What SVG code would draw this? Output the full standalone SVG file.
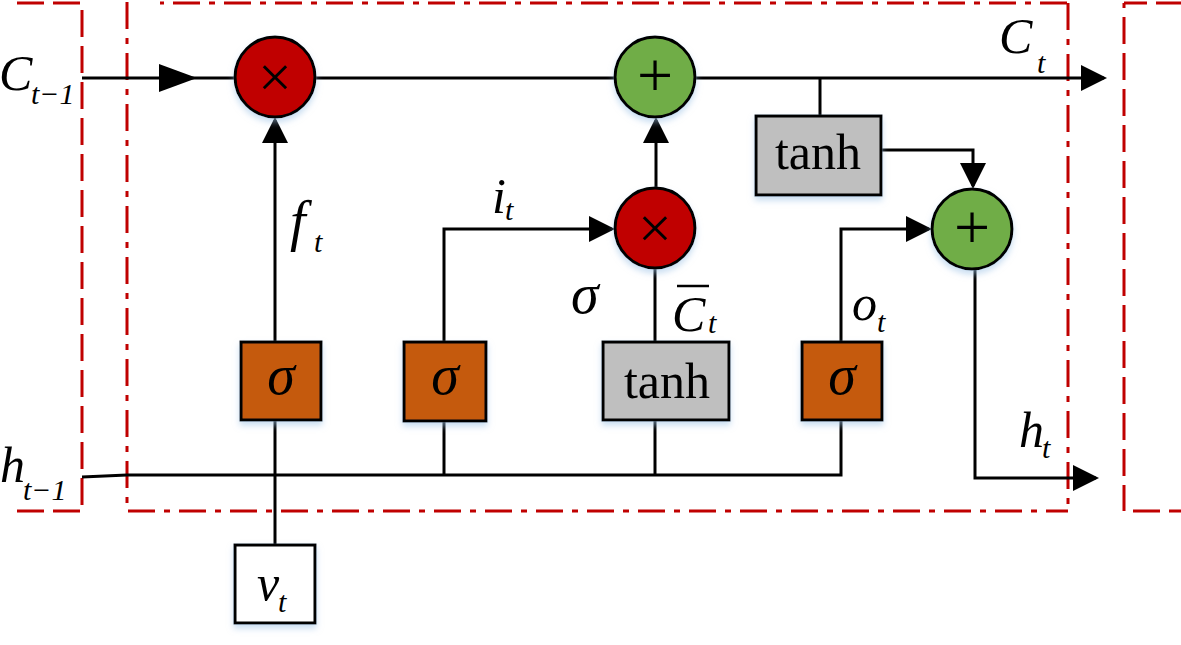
<svg xmlns="http://www.w3.org/2000/svg" width="1181" height="645" viewBox="0 0 1181 645">
<defs>
<style>
.dash{fill:none;stroke:#C00000;stroke-width:3;stroke-dasharray:27 9}
.dd{fill:none;stroke:#C00000;stroke-width:3;stroke-dasharray:27 9 6 9}
.ln{fill:none;stroke:#000;stroke-width:3}
.red{fill:#C00000;stroke:#000;stroke-width:3}
.grn{fill:#70AD47;stroke:#000;stroke-width:3}
.org{fill:#C55A11;stroke:#000;stroke-width:3}
.gry{fill:#BFBFBF;stroke:#000;stroke-width:3}
.wht{fill:#FFFFFF;stroke:#000;stroke-width:3}
.it{font-family:"Liberation Serif","Times New Roman",serif;font-style:italic;fill:#000}
.rm{font-family:"Liberation Serif","Times New Roman",serif;fill:#000}
.mul{font-family:"Liberation Serif","Times New Roman",serif;fill:#000;font-size:60px;text-anchor:middle}
.add{font-family:"Liberation Serif","Times New Roman",serif;fill:#000;font-size:64px;text-anchor:middle}
.big{font-size:50px}
.sub{font-size:30px}
.sg{font-size:56px}
</style>
<filter id="sh" x="-20%" y="-20%" width="140%" height="150%">
<feDropShadow dx="0" dy="4" stdDeviation="3" flood-color="#9DC3E6" flood-opacity="0.55"/>
</filter>
<marker id="ah" markerUnits="userSpaceOnUse" markerWidth="30" markerHeight="30" refX="23" refY="13" orient="auto">
<path d="M0,0 L26,13 L0,26 z" fill="#000"/>
</marker>
</defs>

<g id="frames">
<path class="dash" d="M17,3 H80"/>
<path class="dash" d="M17,511 H80"/>
<path class="dash" d="M82,10 V505"/>
<path class="dd" d="M127,2 V511"/>
<path class="dd" d="M160,3 H1068" stroke-dashoffset="-13"/>
<path class="dd" d="M128,511 H1068"/>
<path class="dd" d="M1068,3 V511"/>
<path class="dash" d="M1124,3 V511" stroke-dashoffset="22"/>
<path class="dash" d="M1124,3 H1181" stroke-dashoffset="4"/>
<path class="dash" d="M1133,511 H1181"/>
</g>

<g id="connectors">
<path class="ln" d="M82,78 H1104" marker-end="url(#ah)"/>
<polygon points="159,64 197,78 159,92" fill="#000"/>
<path class="ln" d="M275,342 V120" marker-end="url(#ah)"/>
<path class="ln" d="M444,342 V229 H612" marker-end="url(#ah)"/>
<path class="ln" d="M656,189 V120" marker-end="url(#ah)"/>
<path class="ln" d="M655,268 V342"/>
<path class="ln" d="M655,420 V475"/>
<path class="ln" d="M82,477 L127,475 H841 V420"/>
<path class="ln" d="M275,420 V545"/>
<path class="ln" d="M444,420 V475"/>
<path class="ln" d="M841,342 V229 H929" marker-end="url(#ah)"/>
<path class="ln" d="M820,78 V116"/>
<path class="ln" d="M881,150 H973 V186" marker-end="url(#ah)"/>
<path class="ln" d="M975,268 V478 H1096" marker-end="url(#ah)"/>
</g>

<g id="mul1"><circle class="red" cx="275" cy="77" r="40" filter="url(#sh)"/><text class="mul" x="275" y="97">×</text></g>
<g id="add1"><circle class="grn" cx="655" cy="77" r="40" filter="url(#sh)"/><text class="add" x="655" y="97">+</text></g>
<g id="mul2"><circle class="red" cx="655" cy="228" r="40" filter="url(#sh)"/><text class="mul" x="655" y="248">×</text></g>
<g id="add2"><circle class="grn" cx="972" cy="229" r="40" filter="url(#sh)"/><text class="add" x="972" y="249">+</text></g>

<g id="tanh1"><rect class="gry" x="756" y="116" width="125" height="79" filter="url(#sh)"/><text class="rm" x="818" y="169" font-size="50" text-anchor="middle">tanh</text></g>
<g id="sig1"><rect class="org" x="241" y="342" width="80" height="78" filter="url(#sh)"/><text class="it sg" x="281" y="394" text-anchor="middle">σ</text></g>
<g id="sig2"><rect class="org" x="404" y="342" width="82" height="79" filter="url(#sh)"/><text class="it sg" x="445" y="394" text-anchor="middle">σ</text></g>
<g id="tanh2"><rect class="gry" x="603" y="342" width="126" height="78" filter="url(#sh)"/><text class="rm" x="667" y="398" font-size="50" text-anchor="middle">tanh</text></g>
<g id="sig3"><rect class="org" x="802" y="342" width="80" height="78" filter="url(#sh)"/><text class="it sg" x="842" y="394" text-anchor="middle">σ</text></g>
<g id="vt"><rect class="wht" x="235" y="545" width="80" height="78" filter="url(#sh)"/><text class="it big" x="257" y="600">v</text><text class="it sub" x="278" y="612">t</text></g>

<g id="labels">
<text class="it big" x="-1" y="90">C</text><text class="it sub" x="31" y="104">t−1</text>
<text class="it big" x="999" y="53">C</text><text class="it sub" x="1037" y="73">t</text>
<text class="it" x="290" y="240" font-size="56">f</text><text class="it sub" x="314" y="252">t</text>
<text class="it big" x="492" y="213">i</text><text class="it sub" x="505" y="220">t</text>
<text class="it sg" x="571" y="313">σ</text>
<text class="it big" x="672" y="331">C</text><text class="it sub" x="708" y="333">t</text>
<path d="M677,286 H709" stroke="#000" stroke-width="2.5"/>
<text class="it big" x="852" y="320">o</text><text class="it sub" x="877" y="332">t</text>
<text class="it big" x="1019" y="447">h</text><text class="it sub" x="1042" y="458">t</text>
<text class="it big" x="0" y="482">h</text><text class="it sub" x="23" y="500">t−1</text>
</g>
</svg>
